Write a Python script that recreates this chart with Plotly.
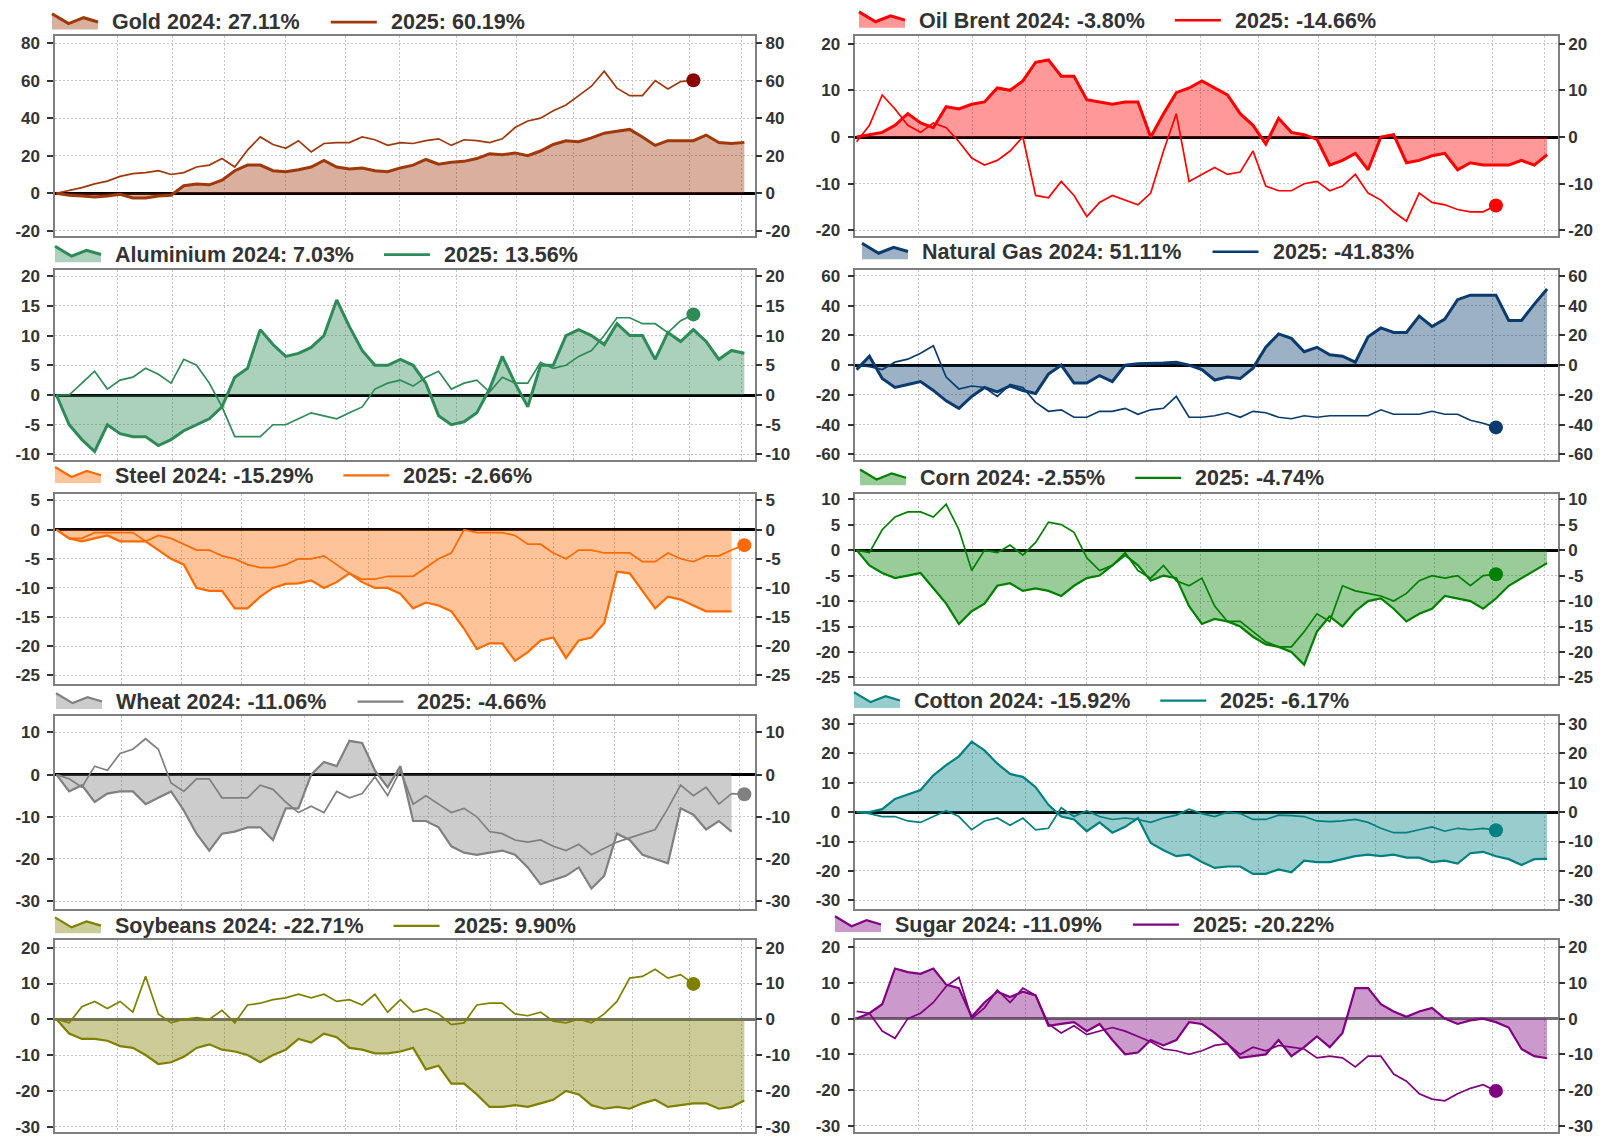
import plotly.graph_objects as go

# ---------------- data ----------------
commodities = ["Gold", "Oil Brent", "Aluminium", "Natural Gas", "Steel",
               "Corn", "Wheat", "Cotton", "Soybeans", "Sugar"]
ret_2024 = [27.11, -3.80, 7.03, 51.11, -15.29, -2.55, -11.06, -15.92, -22.71, -11.09]
ret_2025 = [60.19, -14.66, 13.56, -41.83, -2.66, -4.74, -4.66, -6.17, 9.90, -20.22]

gold_2024 = [0, -1, -1.5, -2, -1.5, -0.5, -2.5, -2.5, -1.5, -1, 4, 5, 4.5, 7, 12, 15, 15, 12, 11.5, 12.5,
             14, 17.5, 14, 13, 13.5, 12, 11.5, 13.5, 15, 18, 15.5, 16.5, 17, 18.5, 21, 20.5, 21.5, 20, 22.5, 26,
             28, 27.5, 29.5, 32, 33, 34, 30, 25.5, 28, 28, 28, 31, 27, 26.5, 27.11]
gold_2025 = [0, 1.5, 3, 5, 6.5, 9, 10.5, 11, 12, 10, 11, 14, 15, 18.5, 14, 23, 30, 26, 24, 28,
             22, 26.5, 27, 27, 30, 28.5, 25.5, 27, 26.5, 28, 29, 25.5, 28.5, 28, 27, 29, 35, 38.5, 40, 44,
             47, 52, 57, 65, 56, 52, 52, 60, 55.5, 59.5, 60.19]

oil_2024 = [0, 0.5, 1, 2.5, 5, 3, 2, 6.5, 6, 7, 7.5, 10.5, 10, 12, 16, 16.5, 13, 13, 8, 7.5,
            7, 7.5, 7.5, 0, 5, 9.5, 10.5, 12, 10.5, 9, 5, 2.5, -1.5, 4, 1, 0.5, -0.5, -6, -5, -3.5,
            -7, 0, 0.5, -5.5, -5, -4, -3.5, -7, -5.5, -6, -6, -6, -5, -6, -3.8]
oil_2025 = [-1, 2.5, 9, 6, 2.5, 1, 3, 2, -1, -4.5, -6, -5, -3, 0, -12.5, -13, -9.5, -12.5, -17, -14,
            -12.5, -13.5, -14.5, -12, -3, 5, -9.5, -8, -6.5, -8, -7.5, -3, -10.5, -11.5, -11.5, -10, -9.5, -11.5, -10.5, -8,
            -12, -13.5, -16, -18, -12, -14, -14.5, -15.5, -16, -16, -14.66]

aluminium_2024 = [0, -5, -7.5, -9.5, -5, -6.5, -7, -7, -8.5, -7.5, -6, -5, -4, -2, 3, 4.5, 11, 8.5, 6.5, 7,
                  8, 10, 16, 11.5, 7.5, 5, 5, 6, 5, 2, -3.5, -5, -4.5, -3, 1, 6.5, 2, -2, 5, 5,
                  10, 11, 10, 8.5, 12, 10, 10, 6, 10.5, 9, 11, 9, 6, 7.5, 7.03]
aluminium_2025 = [0, 0, 2, 4, 1, 2.5, 3, 4.5, 3.5, 2, 6, 5, 2, -2, -7, -7, -7, -5, -5, -4,
                  -3, -3.5, -4, -3, -2, 1, 2, 2.5, 1.5, 3, 4, 1, 2, 2.5, 0.5, 3, 2, 2, 5.5, 4.5,
                  5, 6.5, 7.5, 10, 13, 13, 12, 12, 10.5, 12.5, 13.56]

natgas_2024 = [-3, 6, -9, -15, -13, -11, -17, -24, -29, -21, -15, -18, -14, -17, -19, -6, 0, -12, -12, -7,
               -11, 0, 1, 1, 1.5, 2, 0, -3, -10, -8, -9, -2, 12, 21, 18, 9, 12, 7, 6, 2,
               19, 25, 22, 22, 33, 26, 31, 44, 47, 47, 47, 30, 30, 41, 51.11]
natgas_2025 = [0, -1, -3, 2, 4, 8, 13, -8, -16, -14, -15, -21, -13, -15, -25, -31, -30, -35, -35, -31,
               -31, -29, -33, -30, -29, -21, -35, -35, -34, -32, -35, -31, -32, -35, -36, -34, -35, -34, -34, -34,
               -34, -30, -33, -33, -33, -31, -33, -33, -37, -39, -41.83]

steel_2024 = [0, -1.5, -2, -1.5, -1, -2, -2, -2, -3.5, -5, -6, -10, -10.5, -10.5, -13.5, -13.5, -11.5, -10, -9.3, -9.2,
              -8.7, -10, -9, -7.5, -9, -10, -10, -11, -13.5, -12.5, -13, -14, -17, -20.5, -19.5, -19.5, -22.5, -21, -19, -18.5,
              -22, -19, -18.5, -16, -7.2, -7.5, -10.5, -13.5, -11.5, -12, -13, -14, -14, -14]
steel_2025 = [0, -1.5, -1.5, -0.5, -0.5, -0.5, -0.5, -2, -1, -1.5, -2.5, -3.5, -3.5, -4.5, -5, -6, -6.5, -6.5, -6, -5,
              -5, -4.5, -6, -7.5, -8.5, -8.5, -8, -8, -8, -6.5, -5, -4, 0, -0.5, -0.5, -0.5, -1, -2.5, -2.5, -4,
              -5, -3.5, -3.5, -4, -4, -4, -5.5, -5.5, -4, -5, -5.5, -4.5, -4.5, -3.5, -2.66]

corn_2024 = [0, -3, -4.5, -5.5, -5, -4.5, -7.5, -10.5, -14.5, -12, -10.5, -7, -6.5, -8, -7.5, -8, -9, -7, -5.5, -5,
             -3, -1, -3, -6, -5, -5.5, -11, -14.5, -13.5, -14, -15, -17, -18.5, -19, -20, -22.5, -16, -13, -15, -12,
             -10, -9.5, -11.5, -14, -12.5, -11.5, -9, -9.5, -10, -11.5, -9.5, -7, -5.5, -4, -2.55]
corn_2025 = [0, -0.5, 4, 6.5, 7.5, 7.5, 6.5, 9, 4, -4, 0, -0.5, 1, -1, 1.5, 5.5, 5, 3.5, -1.5, -4,
             -3, -0.5, -4, -5.5, -3, -6, -7, -5.5, -11, -14, -14, -16, -18, -19, -19, -16, -12.5, -14, -7, -8,
             -8.5, -9, -10, -8.5, -6, -5, -5.5, -5, -7, -5, -4.74]

wheat_2024 = [0, -4, -2.5, -6.5, -4.5, -4, -4, -7, -5.5, -4, -8.5, -14, -18, -14, -13.5, -12.5, -12.5, -15.5, -8, -8,
              0, 3, 2, 8, 7.5, 1, -3, 2, -11, -11, -12.5, -17, -18.5, -19, -18.5, -18, -19, -22, -26, -25,
              -24, -22, -27, -24, -14, -15.5, -19, -20, -21, -8, -9.5, -13, -11, -13.5]
wheat_2025 = [0, -1, -3, 2, 1, 5, 6, 8.5, 6, -2, -4, -1, -1, -5.5, -5.5, -5.5, -2.5, -3.5, -6.5, -9,
              -7.5, -9, -4, -5.5, -4.5, -0.5, -5, 1, -7, -5, -7, -9, -8, -10, -13.5, -14, -15.5, -16, -15.5, -17,
              -18, -16.5, -19, -17.5, -16, -15, -14, -13, -8, -2.5, -5, -3, -7, -4.5, -4.66]

cotton_2024 = [0, 0, 1, 4.5, 6, 7.5, 12.5, 16, 19, 24, 21, 16.5, 13, 12, 8.5, 2.5, -1.5, -2.5, -6.5, -3.5,
               -7, -5, -2, -10.5, -13, -15, -14.5, -17, -19, -18.5, -18.5, -21, -21, -19.5, -20.5, -16.5, -17, -17, -16, -15,
               -14.5, -15, -14.5, -15.5, -15.5, -17, -16.5, -17.5, -14, -13.5, -15, -16, -18, -16, -15.92]
cotton_2025 = [0, -0.5, -1.5, -1.5, -3, -3.5, -1.5, 0.5, -1.5, -6, -3, -2, -4.5, -2, -6, -5.5, 1.5, -1.5, 0.5, -1.5,
               -2.5, -2, -2.5, -3.5, -2, -1, 1, -0.5, -1.5, 0, -0.5, -2.5, -2.5, -1, -1.2, -1.5, -3, -3.2, -3, -2.5,
               -3.5, -5.5, -7, -7, -6, -5, -6.5, -5.5, -6, -5.5, -6.17]

soybeans_2024 = [0, -4, -5.5, -5.5, -6, -7.5, -8, -10, -12.5, -12, -10.5, -8, -7, -8.5, -9, -10, -12, -10, -8.5, -5.5,
                 -6.5, -4, -5, -8, -8.5, -9.5, -9.5, -9, -8, -14, -13, -18, -18, -21, -24.5, -24.5, -24, -24.5, -23.5, -22.5,
                 -20, -21, -24, -25, -24.5, -25, -23.5, -22.5, -24.5, -24, -23.5, -23.5, -25, -24.5, -22.71]
soybeans_2025 = [0, -1, 3.5, 5, 3, 5, 2, 12, 1.5, -1, 0, 0.5, 0, 2.5, -1, 4, 4.5, 5.5, 6, 7,
                 6, 7, 5, 5.5, 4, 7, 2, 5.5, 2, 3, 1.5, -1.5, -1, 4, 4.5, 4.5, 1.5, 1, 2, -0.5,
                 -1, 0, -1, 1.5, 5, 11.5, 12, 14, 11.5, 12.5, 9.9]

sugar_2024 = [0, 1.5, 4, 14, 13, 12.5, 14, 9.5, 8.5, 0.5, 4.5, 7.5, 6, 7.5, 6.5, -2, -1.5, -1, -3.5, -1.5,
              -6, -10, -9.5, -6, -7.5, -6, -1, -1.5, -4, -7, -11, -10.5, -10, -6, -10.5, -8, -5, -8, -4, 8.5,
              8.5, 4, 2, 0.5, 2, 3, 0, -1.5, -0.5, 0, -1, -2.5, -8.5, -10.5, -11.09]
sugar_2025 = [2, 1.5, -3.5, -5.5, 0, 1.5, 4.5, 9, 11.5, 0, 3, 8, 4.5, 8.5, 6.5, -1.5, -4, -2, -4.5, -3.5,
              -2.5, -3.5, -5, -6.5, -8.5, -9, -10, -9, -7.5, -7, -10, -8, -9, -7.5, -8, -8.5, -11, -10.5, -11, -13.5,
              -10.5, -10.5, -15.5, -17.5, -21, -22.5, -23, -21, -19.5, -18.5, -20.22]

series_2024 = [gold_2024, oil_2024, aluminium_2024, natgas_2024, steel_2024,
               corn_2024, wheat_2024, cotton_2024, soybeans_2024, sugar_2024]
series_2025 = [gold_2025, oil_2025, aluminium_2025, natgas_2025, steel_2025,
               corn_2025, wheat_2025, cotton_2025, soybeans_2025, sugar_2025]

y_ticks = [[-20, 0, 20, 40, 60, 80], [-20, -10, 0, 10, 20], [-10, -5, 0, 5, 10, 15, 20],
           [-60, -40, -20, 0, 20, 40, 60], [-25, -20, -15, -10, -5, 0, 5], [-25, -20, -15, -10, -5, 0, 5, 10],
           [-30, -20, -10, 0, 10], [-30, -20, -10, 0, 10, 20, 30], [-30, -20, -10, 0, 10, 20],
           [-30, -20, -10, 0, 10, 20]]

# ---------------- style / layout ----------------
W, H = 1603, 1139
LINE_COLORS = ["#A0380A", "#FF0000", "#2E8B57", "#0B3B6E", "#FF6A00",
               "#008000", "#808080", "#008080", "#808000", "#800080"]
MARKER_COLORS = ["#8B0000", "#FF0000", "#2E8B57", "#0B3B6E", "#FF6A00",
                 "#008000", "#808080", "#008080", "#808000", "#800080"]
Y_RANGES = [[-22.8, 83.7], [-21.2, 21.6], [-11.0, 21.05], [-64, 64], [-26.4, 6.1],
            [-26.2, 11.0], [-31.8, 13.8], [-32.9, 32.6], [-31.5, 22.3], [-31.7, 22.1]]
GRID_A = [4.8, 9.1, 13.2, 18.0, 22.7, 26.9, 31.4, 36.1, 40.6, 45.2, 49.7, 53.8]
GRID_B = [5.1, 9.8, 14.5, 19.5, 24.5, 29.2, 34.1, 39.0, 43.8, 48.8, 53.6]
X_DOM = [[0.0344, 0.4711], [0.5336, 0.9719]]
Y_DOM = [[0.7946, 0.9716], [0.5961, 0.7647], [0.3986, 0.5663], [0.1993, 0.3696], [0.0018, 0.1721]]
LEG_SX = [52, 859, 55, 862, 55, 860, 56, 854, 55, 835]          # legend symbol start (px)
LEG_CY = [18.6, 16.7, 253, 250, 475.5, 478, 703.5, 702.5, 929.5, 928.3]  # legend centre (px)
FONT = "Arial, 'Liberation Sans', sans-serif"
TXT = "#333333"
GRID_COL = "#c4c4c4"
GRID_DASH = "2px,2px"
LEG_SIZE = 21.5
SYM_W = 46

CHAR_W = {' ': 278, '%': 889, '-': 333, '.': 278, ':': 333, 'A': 722, 'B': 722, 'C': 722,
          'G': 778, 'N': 722, 'O': 778, 'S': 667, 'W': 944, 'a': 556, 'b': 611, 'c': 556,
          'd': 611, 'e': 556, 'g': 611, 'h': 611, 'i': 278, 'l': 278, 'm': 889, 'n': 611,
          'o': 611, 'r': 389, 's': 556, 't': 333, 'u': 611, 'y': 556}


def text_w(s, size):
    return sum(CHAR_W.get(ch, 556) for ch in s) * size / 1000.0


def px(x):
    return x / W


def py(y):
    return 1 - y / H


def rgba(hexc, a):
    h = hexc.lstrip("#")
    return f"rgba({int(h[0:2], 16)},{int(h[2:4], 16)},{int(h[4:6], 16)},{a})"


fig = go.Figure()
layout = dict(width=W, height=H, margin=dict(l=0, r=0, t=0, b=0),
              paper_bgcolor="white", plot_bgcolor="white", showlegend=False,
              font=dict(family=FONT, color=TXT))
shapes, annotations = [], []

for i, name in enumerate(commodities):
    r, c = divmod(i, 2)
    xid, yl, yr = i + 1, 2 * i + 1, 2 * i + 2
    xref = "x" if xid == 1 else f"x{xid}"
    ylref = "y" if yl == 1 else f"y{yl}"
    yrref = f"y{yr}"
    col = LINE_COLORS[i]
    thick = 3 if i < 4 else 2.2
    thin = 1.7
    s24, s25 = series_2024[i], series_2025[i]

    fig.add_trace(go.Scatter(
        x=list(range(len(s24))), y=s24, mode="lines", fill="tozeroy",
        fillcolor=rgba(col, 0.4), line=dict(color=col, width=thick),
        xaxis=xref, yaxis=ylref, hoverinfo="skip"))
    fig.add_trace(go.Scatter(
        x=list(range(len(s25))), y=s25, mode="lines",
        line=dict(color=col, width=thin),
        xaxis=xref, yaxis=ylref, hoverinfo="skip"))
    fig.add_trace(go.Scatter(
        x=[len(s25) - 1], y=[s25[-1]], mode="markers",
        marker=dict(color=MARKER_COLORS[i], size=14),
        xaxis=xref, yaxis=yrref, hoverinfo="skip"))

    grid = GRID_B if name in ("Steel", "Wheat") else GRID_A
    zcol = "#707070" if name in ("Soybeans", "Sugar") else "black"
    tickfont = dict(family=FONT, size=17, color=TXT, weight="bold")
    ticktext = [str(v) for v in y_ticks[i]]

    layout["xaxis" if xid == 1 else f"xaxis{xid}"] = dict(
        domain=X_DOM[c], anchor=ylref, range=[-0.1, 54.85], tickvals=grid,
        showticklabels=False, ticks="", showgrid=True, gridcolor=GRID_COL,
        griddash=GRID_DASH, gridwidth=1, zeroline=False, showline=True,
        linecolor="#808080", linewidth=1.5, mirror=True, fixedrange=True)
    layout["yaxis" if yl == 1 else f"yaxis{yl}"] = dict(
        domain=Y_DOM[r], anchor=xref, range=Y_RANGES[i], tickvals=y_ticks[i], ticktext=ticktext,
        ticks="outside", ticklen=6, tickwidth=1.5, tickcolor=TXT, tickfont=tickfont,
        ticklabelstandoff=4,
        showgrid=True, gridcolor=GRID_COL, griddash=GRID_DASH, gridwidth=1,
        zeroline=True, zerolinecolor=zcol, zerolinewidth=2.5,
        showline=True, linecolor="#808080", linewidth=1.5, mirror=True, fixedrange=True)
    layout[f"yaxis{yr}"] = dict(
        domain=Y_DOM[r], anchor=xref, overlaying=ylref, side="right",
        range=Y_RANGES[i], tickvals=y_ticks[i], ticktext=ticktext, ticks="outside", ticklen=6,
        tickwidth=1.5, tickcolor=TXT, tickfont=tickfont, showgrid=False,
        zeroline=False, showline=False, fixedrange=True)

    # ---- hand-drawn legend (area symbol + line symbol + labels) ----
    sx, cy = LEG_SX[i], LEG_CY[i]
    zig = [(0, -8.8), (16.6, 1.2), (31.6, -4.8), (SYM_W, -0.5)]
    bottom = 7.2
    area = "M " + " L ".join(f"{px(sx + dx)},{py(cy + dy)}" for dx, dy in zig)
    area += f" L {px(sx + SYM_W)},{py(cy + bottom)} L {px(sx)},{py(cy + bottom)} Z"
    shapes.append(dict(type="path", xref="paper", yref="paper", path=area,
                       fillcolor=rgba(col, 0.4), line=dict(width=0), layer="above"))
    stroke = "M " + " L ".join(f"{px(sx + dx)},{py(cy + dy)}" for dx, dy in zig)
    shapes.append(dict(type="path", xref="paper", yref="paper", path=stroke,
                       fillcolor="rgba(0,0,0,0)", line=dict(color=col, width=thick), layer="above"))
    label1 = f"{name} 2024: {ret_2024[i]:.2f}%"
    label2 = f"2025: {ret_2025[i]:.2f}%"
    t1x = sx + SYM_W + 12
    annotations.append(dict(xref="paper", yref="paper", x=px(t1x), y=py(cy), xanchor="left",
                            yanchor="middle", text=label1, showarrow=False,
                            font=dict(family=FONT, size=LEG_SIZE, color=TXT, weight="bold")))
    s2 = t1x + text_w(label1, LEG_SIZE) + 32
    shapes.append(dict(type="line", xref="paper", yref="paper", x0=px(s2), x1=px(s2 + SYM_W),
                       y0=py(cy - 0.3), y1=py(cy - 0.3),
                       line=dict(color=col, width=2.7 if i < 4 else 2.2), layer="above"))
    annotations.append(dict(xref="paper", yref="paper", x=px(s2 + SYM_W + 12), y=py(cy),
                            xanchor="left", yanchor="middle", text=label2, showarrow=False,
                            font=dict(family=FONT, size=LEG_SIZE, color=TXT, weight="bold")))

layout["shapes"] = shapes
layout["annotations"] = annotations
fig.update_layout(**layout)
fig.write_html("out.html", include_plotlyjs=True, full_html=True,
               config={"displayModeBar": False},
               post_script="document.body.style.margin='0';document.body.style.overflow='hidden';")
